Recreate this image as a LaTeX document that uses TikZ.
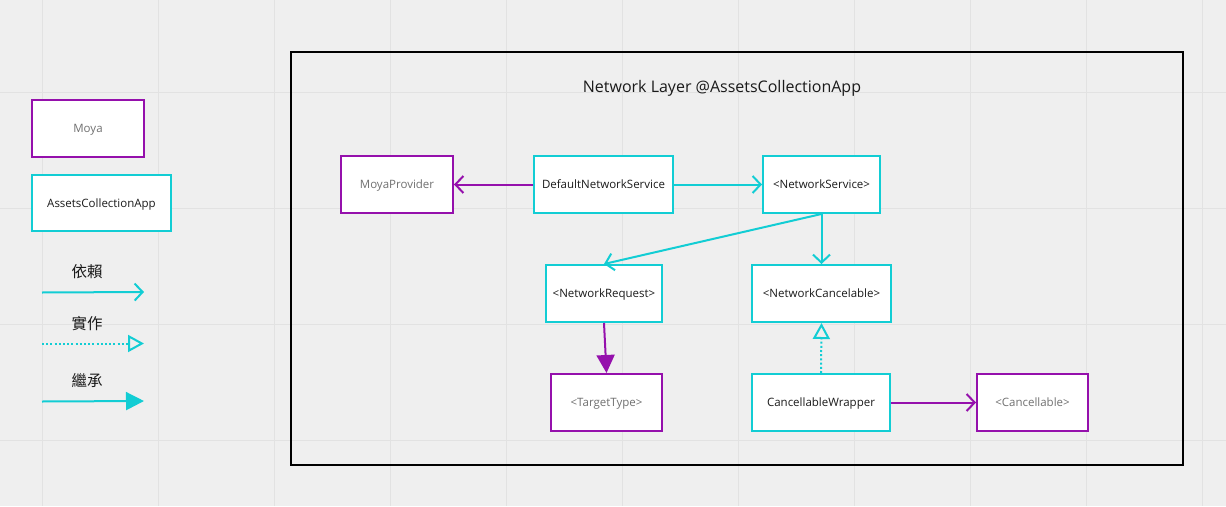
\documentclass[tikz,border=0pt]{standalone}
\usepackage{fontspec}
\setmainfont{Open Sans}
\newfontfamily\cjk{Noto Sans CJK TC}
\usetikzlibrary{arrows.meta}
\definecolor{cy}{HTML}{12CDD4}
\definecolor{pu}{HTML}{9510AC}
\definecolor{bg}{HTML}{EFEFEF}
\definecolor{gridc}{HTML}{E2E2E2}
\definecolor{txt}{HTML}{1A1A1A}
\definecolor{gtxt}{HTML}{707070}
\tikzset{
  box/.style={rectangle, fill=white, line width=2pt, inner sep=0pt, text height=8.2pt, text depth=0pt, font=\fontsize{11.5}{13}\selectfont},
  cbox/.style={box, draw=cy, text=txt},
  pbox/.style={box, draw=pu, text=gtxt},
  dep/.style={line width=2pt, -{Straight Barb[length=8pt,width=17pt,line width=2pt]}},
  realize/.style={line width=2pt, dash pattern=on 2pt off 2.2pt, -{Triangle[open,length=16pt,width=17pt,line width=2pt]}},
  inherit/.style={line width=2pt, -{Triangle[length=18pt,width=18pt]}},
  lgtext/.style={font=\cjk\fontsize{15.5}{17}\selectfont, text=txt, inner sep=0pt},
}
\begin{document}
\begin{tikzpicture}[x=1pt,y=-1pt]
\useasboundingbox (0,0) rectangle (1226,506);
\fill[bg] (0,0) rectangle (1226,506);
\foreach \gx in {42,158,...,1202} \draw[gridc, line width=1pt] (\gx,0) -- (\gx,506);
\foreach \gy in {92,208,324,440} \draw[gridc, line width=1pt] (0,\gy) -- (1226,\gy);

% frame
\node[draw=black, line width=2pt, minimum width=892pt, minimum height=413pt, inner sep=0pt] (frame) at (737,258.5) {};
\node[font=\fontsize{16}{18}\selectfont, text=txt, text height=11.4pt, text depth=0pt, inner sep=0pt] (title) at (722,87) {Network Layer @AssetsCollectionApp};

% legend
\node[pbox, minimum width=112pt, minimum height=57pt] (lmoya) at (88,128.5) {Moya};
\node[cbox, minimum width=139pt, minimum height=56pt] (lapp) at (101.5,203) {AssetsCollectionApp};
\node[lgtext] (ldep) at (87,271.5) {依賴};
\node[lgtext] (lreal) at (87,323.5) {實作};
\node[lgtext] (linh) at (87,380.5) {繼承};
\coordinate (d1) at (42,292.5);
\coordinate (d2) at (144,292);
\coordinate (r1) at (42,343.5);
\coordinate (r2) at (144,343.5);
\coordinate (i1) at (42,401.5);
\coordinate (i2) at (144,401);
\draw[dep, cy] (d1) -- (d2);
\draw[realize, cy] (r1) -- (r2);
\draw[inherit, cy] (i1) -- (i2);

% main nodes
\node[pbox, minimum width=112pt, minimum height=57pt] (moya) at (397,184.5) {MoyaProvider};
\node[cbox, minimum width=139pt, minimum height=57pt] (dns) at (603.5,184.5) {DefaultNetworkService};
\node[cbox, minimum width=117pt, minimum height=57pt] (ns) at (821.5,184.5) {<NetworkService>};
\node[cbox, minimum width=116pt, minimum height=57pt] (nreq) at (604,293.5) {<NetworkRequest>};
\node[cbox, minimum width=139pt, minimum height=57pt] (ncan) at (821.5,293.5) {<NetworkCancelable>};
\node[pbox, minimum width=111pt, minimum height=57pt] (tt) at (606.5,402.5) {<TargetType>};
\node[cbox, minimum width=138pt, minimum height=57pt] (cw) at (821,402.5) {CancellableWrapper};
\node[pbox, minimum width=111pt, minimum height=57pt] (canc) at (1032.5,402.5) {<Cancellable>};

% connectors
\draw[dep, pu] (dns.west) -- (moya.east);
\draw[dep, cy] (dns.east) -- (ns.west);
\draw[dep, cy] (ns.south) -- (nreq.north);
\draw[dep, cy] (ns.south) -- (ncan.north);
\draw[inherit, pu] (nreq.south) -- (tt.north);
\draw[realize, cy] (cw.north) -- (ncan.south);
\draw[dep, pu] (cw.east) -- (canc.west);
\end{tikzpicture}
\end{document}
